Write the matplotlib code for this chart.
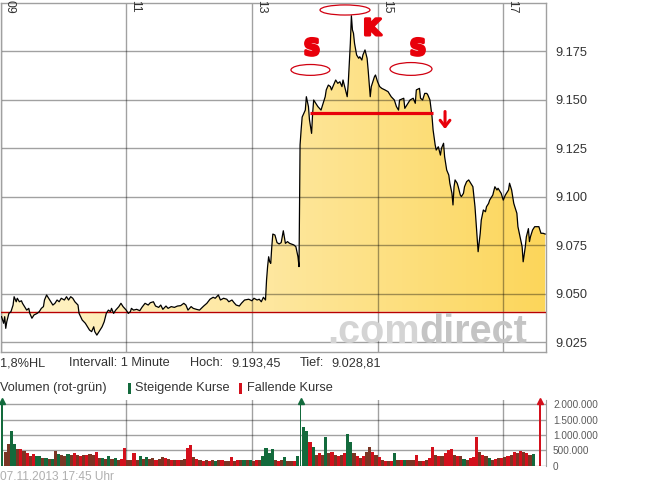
import numpy as np
import matplotlib
matplotlib.use("Agg")
import matplotlib.pyplot as plt
import matplotlib.patheffects as pe
from matplotlib.colors import LinearSegmentedColormap
from matplotlib.patches import Ellipse, Rectangle

plt.rcParams["font.family"] = ["Liberation Sans", "DejaVu Sans"]

# ---------------------------------------------------------------- data
# DAX intraday, minutes after 09:00
minute = [1, 3, 4, 5, 6, 8, 10, 12, 13, 15, 16, 18, 20, 21, 23, 25, 27, 28, 30, 32,
          35, 37, 39, 41, 42, 44, 46, 48, 50, 52, 54, 56, 58, 61, 63, 65, 67, 69, 71, 74,
          75, 78, 81, 83, 85, 87, 89, 90, 92, 95, 97, 99, 101, 103, 105, 106, 108, 110, 113, 115,
          117, 120, 122, 124, 125, 127, 130, 133, 135, 138, 141, 143, 146, 148, 151, 153, 155, 158, 160, 163,
          166, 169, 172, 175, 177, 179, 182, 184, 187, 190, 194, 197, 200, 203, 205, 208, 210, 213, 216, 218,
          221, 223, 225, 228, 230, 233, 237, 240, 242, 245, 247, 249, 251, 253, 254, 255, 256, 257, 258, 259,
          260, 262, 264, 266, 268, 270, 272, 274, 276, 280, 282, 284, 285, 286, 287, 288, 291, 292, 294, 295,
          297, 298, 299, 301, 303, 306, 308, 310, 311, 313, 315, 316, 318, 320, 322, 324, 326, 327, 329, 331,
          332, 334, 335, 336, 337, 338, 340, 342, 343, 345, 346, 348, 350, 351, 353, 354, 357, 358, 360, 362,
          364, 367, 370, 373, 376, 378, 380, 381, 385, 386, 389, 391, 394, 396, 397, 400, 401, 403, 405, 407,
          408, 410, 412, 413, 415, 416, 418, 420, 421, 423, 424, 426, 428, 429, 431, 432, 433, 434, 436, 437,
          439, 440, 442, 443, 445, 447, 449, 451, 453, 455, 456, 458, 459, 461, 463, 464, 466, 467, 469, 470,
          472, 474, 475, 477, 478, 480, 482, 483, 485, 486, 488, 490, 491, 493, 494, 496, 498, 499, 501, 502,
          504, 505, 506, 508, 510, 512, 514, 516, 518, 520]
price = [9038.3, 9034.9, 9038.3, 9032.3, 9035.7, 9040.0, 9040.9, 9044.3, 9048.6, 9046.0,
         9047.8, 9046.0, 9046.5, 9045.2, 9043.5, 9041.7, 9042.6, 9040.0, 9037.5, 9039.2,
         9040.0, 9040.9, 9042.6, 9043.5, 9046.9, 9049.5, 9047.8, 9046.0, 9044.3, 9045.2,
         9046.9, 9046.0, 9047.8, 9046.9, 9048.6, 9046.9, 9048.6, 9047.8, 9046.0, 9044.3,
         9040.0, 9036.6, 9034.9, 9033.1, 9031.4, 9030.6, 9033.1, 9030.6, 9028.81, 9031.4,
         9033.1, 9035.7, 9040.0, 9041.7, 9040.9, 9042.6, 9040.0, 9041.7, 9043.5, 9045.2,
         9043.5, 9041.7, 9040.0, 9040.9, 9042.6, 9041.7, 9042.1, 9041.4, 9043.1, 9045.2,
         9044.3, 9045.5, 9046.0, 9043.8, 9043.1, 9044.3, 9042.1, 9043.8, 9042.6, 9043.5,
         9043.1, 9043.8, 9044.0, 9045.2, 9044.3, 9041.7, 9043.5, 9042.6, 9042.1, 9041.7,
         9043.8, 9045.2, 9047.3, 9048.3, 9047.8, 9049.5, 9046.9, 9047.8, 9047.3, 9046.0,
         9046.9, 9045.5, 9044.3, 9043.8, 9045.2, 9046.9, 9047.3, 9046.5, 9047.8, 9046.9,
         9047.3, 9046.0, 9048.3, 9046.9, 9057.2, 9064.1, 9069.2, 9066.6, 9065.8, 9074.4,
         9080.9, 9080.4, 9076.5, 9075.8, 9076.5, 9082.6, 9076.1, 9077.0, 9076.1, 9075.3,
         9074.4, 9069.2, 9064.1, 9126.8, 9134.5, 9141.2, 9144.8, 9151.7, 9146.6, 9139.7,
         9132.8, 9143.1, 9150.0, 9148.3, 9146.6, 9144.8, 9148.3, 9151.7, 9155.2, 9157.7,
         9156.9, 9155.2, 9157.7, 9160.3, 9158.6, 9159.4, 9156.9, 9160.3, 9156.0, 9151.7,
         9158.6, 9179.2, 9193.45, 9186.1, 9184.4, 9179.2, 9173.2, 9171.5, 9172.3, 9170.6,
         9173.2, 9175.8, 9171.5, 9165.5, 9151.7, 9156.9, 9162.0, 9162.9, 9159.4, 9156.9,
         9156.0, 9155.2, 9154.3, 9151.7, 9150.0, 9146.6, 9144.8, 9150.0, 9150.9, 9145.7,
         9148.3, 9150.0, 9150.9, 9148.3, 9155.2, 9156.0, 9150.9, 9150.0, 9153.4, 9153.4,
         9152.6, 9150.0, 9141.4, 9134.6, 9126.8, 9124.2, 9125.9, 9121.6, 9125.1, 9127.7,
         9120.8, 9113.9, 9111.3, 9107.1, 9101.9, 9095.9, 9105.3, 9108.8, 9107.1, 9105.3,
         9101.0, 9100.2, 9101.9, 9105.3, 9107.9, 9108.8, 9107.1, 9105.3, 9095.0, 9079.6,
         9071.8, 9081.3, 9088.1, 9093.3, 9092.4, 9095.0, 9096.7, 9098.4, 9100.2, 9101.0,
         9105.3, 9103.6, 9104.5, 9102.7, 9101.9, 9098.4, 9101.0, 9101.9, 9103.6, 9107.1,
         9103.6, 9096.8, 9095.0, 9091.6, 9084.7, 9079.6, 9074.4, 9066.6, 9074.2, 9079.4,
         9083.7, 9077.0, 9079.6, 9083.0, 9084.7, 9084.7, 9084.7, 9081.3, 9081.3, 9080.9]

prev_close = 9040.87
session_high = 9193.45
session_low = 9028.81

hour_ticks = [0, 120, 240, 360, 480]
hour_labels = ["09", "11", "13", "15", "17"]
price_ticks = [9025, 9050, 9075, 9100, 9125, 9150, 9175]
vol_ticks = [0, 500000, 1000000, 1500000, 2000000]

# turnover in thousands per 3-minute block: u = rising, d = falling, m = mixed
vol_block = 3
vol_k = [2600, 450, 700, 1130, 720, 560, 540, 480, 420, 330,
         370, 300, 330, 250, 240, 220, 230, 480, 390, 340,
         320, 380, 340, 420, 360, 330, 350, 360, 370, 340,
         430, 260, 240, 220, 300, 210, 260, 200, 220, 590,
         200, 190, 400, 200, 330, 220, 280, 210, 250, 200,
         230, 280, 240, 210, 190, 200, 180, 190, 230, 580,
         680, 280, 220, 190, 160, 170, 150, 180, 160, 200,
         170, 160, 150, 290, 160, 170, 180, 170, 200, 190,
         150, 200, 200, 300, 590, 420, 560, 180, 150, 170,
         290, 160, 150, 140, 300, 2600, 1270, 1130, 780, 620,
         350, 400, 350, 945, 400, 450, 350, 300, 350, 400,
         1020, 780, 400, 330, 250, 300, 450, 620, 450, 350,
         280, 200, 160, 150, 160, 400, 200, 180, 200, 180,
         190, 200, 350, 160, 150, 170, 240, 620, 350, 300,
         300, 400, 500, 560, 350, 300, 300, 220, 200, 250,
         280, 945, 460, 350, 300, 250, 180, 230, 240, 260,
         290, 300, 350, 430, 400, 480, 460, 400, 350, 370]
vol_dir = ("ummuumdmdm" "duumumumum" "mumdmdmdmm"
           "dmumumumdd" "mmdmumummd" "mmdmdmdmmd"
           "dmdmdmdmum" "dmmdmdmumu" "mdmuuuumdm"
           "ummduuuudu" "mdmumdmdmd" "uumdmdmmdm"
           "dmdmdumdum" "mmdmdmddmd" "mdddmdmumd"
           "ddmdmumdmd" "mdmdmdmdmu")
auction_minute = 515
auction_vol_k = 2600

# ---------------------------------------------------------------- layout helpers
W, H = 645, 483
fig = plt.figure(figsize=(W / 100, H / 100), dpi=100)


def box(x0, y0, x1, y1):
    return [x0 / W, 1 - y1 / H, (x1 - x0) / W, (y1 - y0) / H]


def fx(px):
    return px / W


def fy(py):
    return 1 - py / H


GRID = dict(color="black", alpha=0.37, lw=1.0)
FRAME = "#A0A0A0"
TXT = "#333333"
XMAX = 520.8

# ---------------------------------------------------------------- price panel
ax = fig.add_axes(box(0.5, 3, 546, 352))

poly = ax.fill_between(minute, price, prev_close, facecolor="none", edgecolor="none")
cmap = LinearSegmentedColormap.from_list("gold", ["#FFF3C8", "#FEE79E", "#FCD65A"])
im = ax.imshow(np.linspace(0, 1, 256).reshape(1, -1), extent=[0, XMAX, 9020.1, 9200],
               aspect="auto", cmap=cmap, origin="lower", zorder=1, interpolation="bilinear")
im.set_clip_path(poly.get_paths()[0], transform=ax.transData)

for t in hour_ticks:
    ax.axvline(t, zorder=2, **GRID)
for p in price_ticks:
    ax.axhline(p, zorder=2, **GRID)

ax.axhline(prev_close, color="#B80000", lw=1.0, zorder=3)
ax.plot(minute, price, color="black", lw=0.9, zorder=4)

ax.set_xlim(0, XMAX)
ax.set_ylim(9020.1, 9200)
ax.set_xticks([])
ax.yaxis.tick_right()
ax.set_yticks(price_ticks, labels=[f"{p / 1000:.3f}" for p in price_ticks])
ax.tick_params(axis="y", length=0, pad=7, labelsize=9.2, labelcolor=TXT)
for s in ax.spines.values():
    s.set_color(FRAME)
    s.set_linewidth(1.0)

for t, lab in zip(hour_ticks, hour_labels):
    ax.annotate(lab, xy=(t, 1), xycoords=("data", "axes fraction"),
                xytext=(2.2, 2.2), textcoords="offset points",
                rotation=-90, ha="left", va="top", fontsize=8.8, color=TXT)

# hand-drawn head-and-shoulders markup
RED = "#E8000A"
neckline = 9143.1
ax.plot([295.5, 412.9], [neckline, neckline], color=RED, lw=2.3, zorder=5,
        solid_capstyle="butt")
for cx, cy, w, h in [(328.9, 9196.4, 47.7, 5.2), (295.9, 9165.5, 37.2, 5.6),
                     (391.9, 9166.0, 40.1, 6.6)]:
    ax.add_patch(Ellipse((cx, cy), w, h, fill=False, edgecolor="#D00010", lw=0.9,
                         zorder=5, clip_on=False))
thick = [pe.withStroke(linewidth=2.2, foreground=RED)]
for lx, ly, s in [(297.4, 9176.3, "S"), (354.7, 9186.6, "K"), (398.6, 9176.3, "S")]:
    ax.text(lx, ly, s, color=RED, fontsize=16, fontweight="black",
            family="DejaVu Sans", ha="center", va="center", zorder=6, path_effects=thick)
ax.annotate("", xy=(424.4, 9133.6), xytext=(424.4, 9145.5),
            arrowprops=dict(arrowstyle="->,head_width=0.35,head_length=0.45",
                            color=RED, lw=2.2), zorder=6)

# watermark
r = fig.canvas.get_renderer()
t1 = fig.text(fx(327), fy(343), ".com", fontsize=28.5, color="#D4D4D4",
              ha="left", va="baseline", family="Liberation Sans", fontweight="bold",
              zorder=0.5)
bb = t1.get_window_extent(renderer=r)
fig.text(bb.x1 / W, fy(343), "direct", fontsize=28.5, color="#C4C4C4",
         ha="left", va="baseline", family="Liberation Sans", fontweight="bold", zorder=0.5)

# ---------------------------------------------------------------- info lines
fmt_de = lambda v: f"{v:,.2f}".replace(",", "X").replace(".", ",").replace("X", ".")
info = [(0, "1,8%HL"), (69, "Intervall: 1 Minute"), (190, "Hoch:"),
        (231, fmt_de(session_high)), (300, "Tief:"), (331, fmt_de(session_low))]
for x, s in info:
    fig.text(fx(x), fy(363), s, fontsize=9.2, color=TXT, ha="left", va="center")

fig.text(fx(0), fy(388), "Volumen (rot-grün)", fontsize=9.2, color=TXT, ha="left", va="center")
fig.text(fx(135), fy(388), "Steigende Kurse", fontsize=9.2, color=TXT, ha="left", va="center")
fig.text(fx(247), fy(388), "Fallende Kurse", fontsize=9.2, color=TXT, ha="left", va="center")
UP, DOWN, MIX = "#136A3C", "#D3101C", "#7A3524"
for x, c in [(128, UP), (239, DOWN)]:
    fig.add_artist(Rectangle((fx(x), fy(394)), 3 / W, 11 / H, transform=fig.transFigure,
                             facecolor=c, edgecolor="none"))

fig.text(fx(0), fy(477), "07.11.2013 17:45 Uhr", fontsize=8.6, color="#AFAFAF",
         ha="left", va="center")

# ---------------------------------------------------------------- volume panel
vax = fig.add_axes(box(0.5, 400, 546, 466))
VTOP = 2140000
vax.set_xlim(0, XMAX)
vax.set_ylim(-10000, VTOP)
for t in hour_ticks:
    vax.axvline(t, zorder=1, **GRID)
for v in vol_ticks:
    vax.axhline(v, zorder=1, **GRID)

colmap = {"u": UP, "d": DOWN, "m": MIX}
vols = np.array(vol_k) * 1000.0
starts = np.arange(len(vols)) * vol_block
cols = [colmap[c] for c in vol_dir]
normal = vols <= vol_ticks[-1]
vax.bar(starts[normal], vols[normal], width=vol_block, align="edge",
        color=np.array(cols)[normal], linewidth=0, zorder=2)
spikes = [(s + vol_block / 2, v, c) for s, v, c, n in zip(starts, vols, cols, normal) if not n]
spikes.append((auction_minute, auction_vol_k * 1000.0, DOWN))
for x, v, c in spikes:
    vax.bar(x, v, width=1.3, align="center", color=c, linewidth=0, zorder=2)
    vax.plot(x, VTOP - 30000, marker="^", ms=5, color=c, mec=c, clip_on=False, zorder=3)

vax.set_xticks([])
vax.yaxis.tick_right()
vax.set_yticks(vol_ticks, labels=[f"{v:,.0f}".replace(",", ".") for v in vol_ticks])
vax.tick_params(axis="y", length=0, pad=5, labelsize=7.2, labelcolor="#5A5A5A")
for name, s in vax.spines.items():
    s.set_visible(name == "right")
    s.set_color(FRAME)

fig.savefig("out.png", dpi=100)
